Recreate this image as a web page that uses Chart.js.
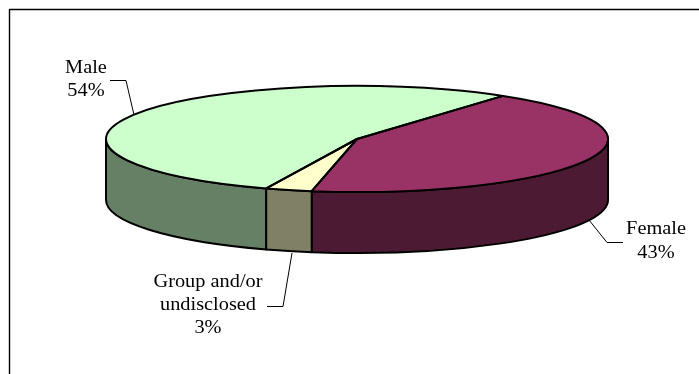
<!DOCTYPE html>
<html>
<head>
<meta charset="utf-8">
<script src="https://cdn.jsdelivr.net/npm/chart.js@4"></script>
<style>
  html, body { margin: 0; padding: 0; background: #fff; }
  canvas { display: block; }
</style>
</head>
<body>
<canvas id="shareChart" width="699" height="374"></canvas>
<script>
const categories = ['Male', 'Female', 'Group and/or undisclosed'];
const shares = [54, 43, 3];
const topColors = ['#CCFFCC', '#993366', '#FFFFCC'];
const sideColors = ['#668066', '#4D1A33', '#808066'];

// label text, one entry per line
const labelLines = [
    ['Male', '54%'],
    ['Female', '43%'],
    ['Group and/or', 'undisclosed', '3%'],
];

// tilted disc geometry
const disc = { x: 357, y: 139, rx: 251, ry: 53, depth: 61 };

function outline(ctx) {
    ctx.strokeStyle = '#000';
    ctx.lineWidth = 2;
    ctx.lineJoin = 'round';
    ctx.stroke();
}

// the side wall of each slice, only the part facing the viewer
function drawWalls(ctx, arcs) {
    arcs.forEach((arc, i) => {
        const span = arc.endAngle - arc.startAngle;
        const start = ((arc.startAngle % (2 * Math.PI)) + 2 * Math.PI) % (2 * Math.PI);
        const end = start + span;
        [0, 2 * Math.PI].forEach(turn => {
            const a = Math.max(start, turn);
            const b = Math.min(end, turn + Math.PI);
            if (b <= a) return;
            ctx.beginPath();
            ctx.ellipse(disc.x, disc.y, disc.rx, disc.ry, 0, a, b);
            ctx.ellipse(disc.x, disc.y + disc.depth, disc.rx, disc.ry, 0, b, a, true);
            ctx.closePath();
            ctx.fillStyle = sideColors[i];
            ctx.fill();
            outline(ctx);
        });
    });
}

function drawLeader(ctx, pts) {
    ctx.beginPath();
    pts.forEach((p, i) => (i ? ctx.lineTo(p[0], p[1]) : ctx.moveTo(p[0], p[1])));
    ctx.strokeStyle = '#000';
    ctx.lineWidth = 1;
    ctx.stroke();
}

function drawLabel(ctx, lines, cx, baselines) {
    ctx.save();
    ctx.font = '18px "Liberation Serif"';
    ctx.fillStyle = '#000';
    ctx.textAlign = 'center';
    lines.forEach((line, i) => {
        ctx.save();
        ctx.translate(cx, baselines[i]);
        ctx.scale(1.13, 1);
        ctx.fillText(line, 0, 0);
        ctx.restore();
    });
    ctx.restore();
}

const tiltedPie = {
    id: 'tiltedPie',
    beforeDatasetsDraw(chart) {
        const ctx = chart.ctx;
        const arcs = chart.getDatasetMeta(0).data;
        drawWalls(ctx, arcs);
        // squash the library's slices onto the disc
        const c = arcs[0];
        ctx.save();
        ctx.translate(disc.x, disc.y);
        ctx.scale(disc.rx / c.outerRadius, disc.ry / c.outerRadius);
        ctx.translate(-c.x, -c.y);
    },
    afterDatasetsDraw(chart) {
        const ctx = chart.ctx;
        ctx.restore();
        chart.getDatasetMeta(0).data.forEach(arc => {
            ctx.beginPath();
            ctx.moveTo(disc.x, disc.y);
            ctx.ellipse(disc.x, disc.y, disc.rx, disc.ry, 0, arc.startAngle, arc.endAngle);
            ctx.closePath();
            outline(ctx);
        });

        drawLeader(ctx, [[110, 80.5], [126, 80.5], [134, 115]]);
        drawLeader(ctx, [[589, 220], [607, 242.5], [623, 242.5]]);
        drawLeader(ctx, [[292, 253], [283, 306.5], [267, 306.5]]);
        drawLabel(ctx, labelLines[0], 86, [73, 96]);
        drawLabel(ctx, labelLines[1], 656, [234, 258]);
        drawLabel(ctx, labelLines[2], 208, [287, 310, 333]);

        // chart frame: top and left edges only
        ctx.beginPath();
        ctx.moveTo(9.5, 374);
        ctx.lineTo(9.5, 9.5);
        ctx.lineTo(699, 9.5);
        ctx.strokeStyle = '#000';
        ctx.lineWidth = 1.4;
        ctx.stroke();
    },
};

new Chart(document.getElementById('shareChart').getContext('2d'), {
    type: 'pie',
    data: {
        labels: categories,
        datasets: [{
            data: shares,
            backgroundColor: topColors,
            borderWidth: 0,
        }],
    },
    options: {
        responsive: false,
        animation: false,
        rotation: 201.2,
        plugins: {
            legend: { display: false },
            tooltip: { enabled: false },
        },
    },
    plugins: [tiltedPie],
});
</script>
</body>
</html>
